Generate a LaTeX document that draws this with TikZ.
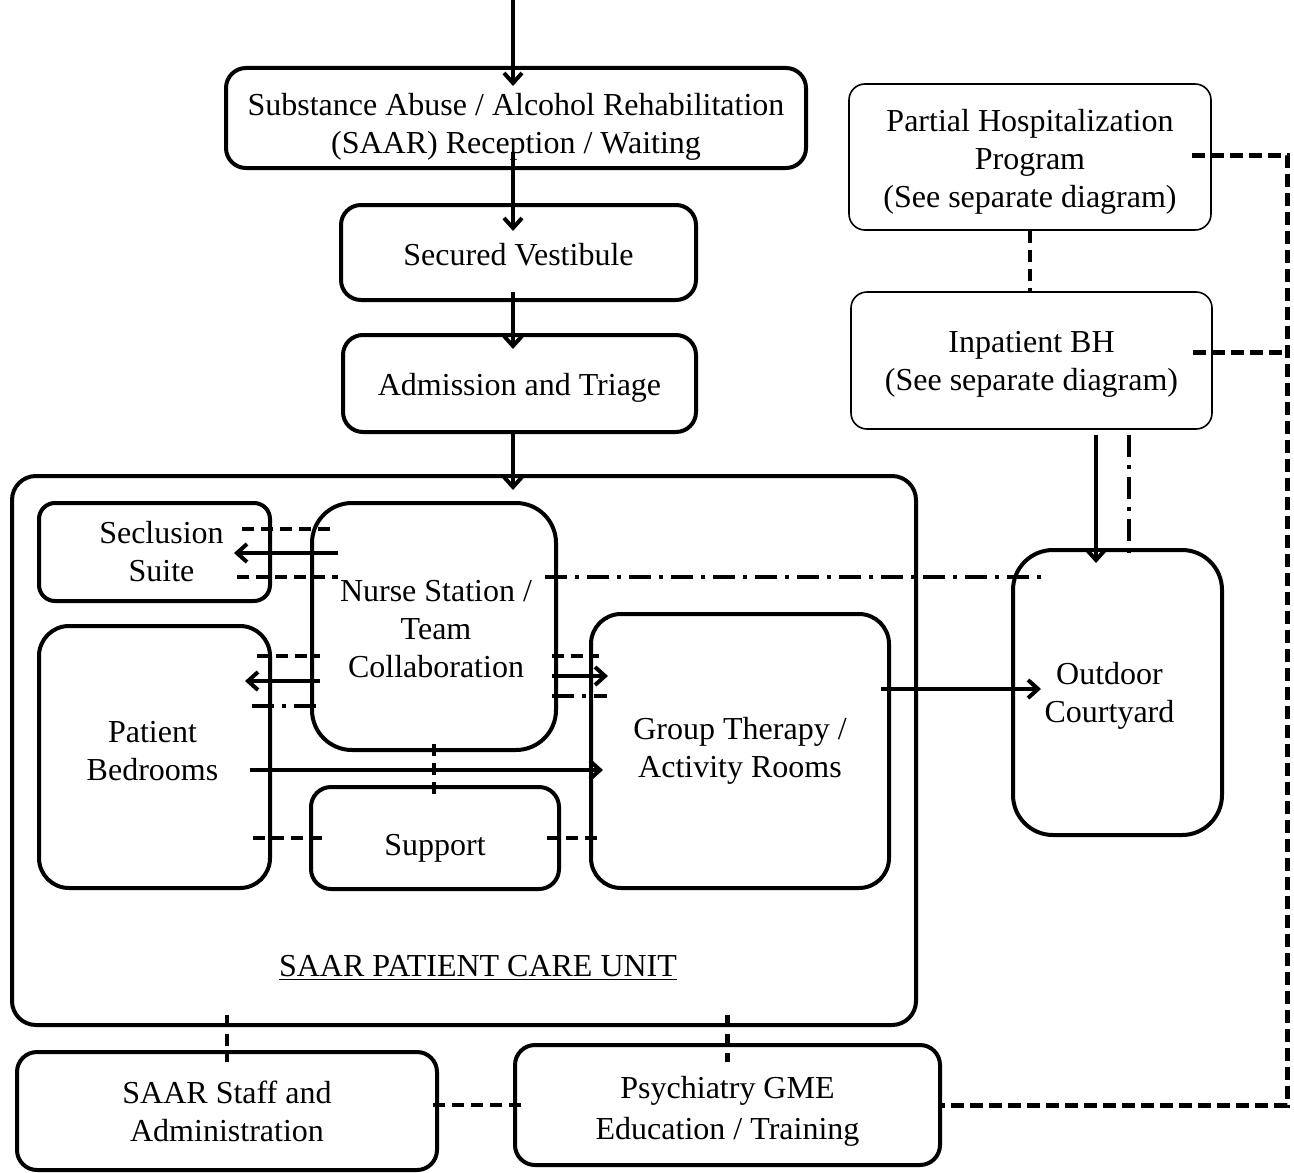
\documentclass[tikz,border=0pt]{standalone}
\usepackage{fontspec}
\setmainfont{Liberation Serif}
\usetikzlibrary{arrows.meta}
\begin{document}
\begin{tikzpicture}[x=0.5pt,y=-0.5pt,
	txt/.style={align=center,inner sep=0pt,font=\fontsize{16}{19}\selectfont},
	box/.style={draw,txt,line width=2pt,rounded corners=10pt},
	thinbox/.style={box,line width=0.8pt,rounded corners=8pt},
	arr/.style={line width=2pt,-{Straight Barb[length=5pt,width=9pt]}},
	dashln/.style={line width=2.2pt,dash pattern=on 6pt off 3.5pt},
	railln/.style={line width=2.5pt,dash pattern=on 6.5pt off 3pt},
	dotdash/.style={line width=2pt,dash pattern=on 11pt off 4pt on 2pt off 4pt}]
	\useasboundingbox (0,0) rectangle (1294,1172);
	% boxes
	\node[box,minimum width=290pt,minimum height=50pt,label={[txt,yshift=-4.5pt]center:{Substance Abuse / Alcohol Rehabilitation\\(SAAR) Reception / Waiting}}] (recep) at (516,118) {};
	\node[box,minimum width=177.5pt,minimum height=47.5pt,label={[txt,yshift=-1pt]center:Secured Vestibule}] (vest) at (518.5,252.5) {};
	\node[box,minimum width=176.5pt,minimum height=48.5pt,label={[txt,yshift=-2pt]center:Admission and Triage}] (adm) at (519.5,383.5) {};
	\node[box,rounded corners=12pt,minimum width=452pt,minimum height=274.5pt] (unit) at (464,750.5) {};
	\node[txt] (unitlbl) at (478,968) {\underline{SAAR PATIENT CARE UNIT}};
	\node[box,rounded corners=8pt,minimum width=115.5pt,minimum height=49pt,label={[txt,xshift=3.5pt]center:{Seclusion\\Suite}}] (secl) at (154.5,552) {};
	\node[box,rounded corners=20pt,minimum width=122pt,minimum height=123.5pt,label={[txt,xshift=1pt,yshift=-1.5pt]center:{Nurse Station /\\Team\\Collaboration}}] (nurse) at (434,626.5) {};
	\node[box,rounded corners=15pt,minimum width=115.5pt,minimum height=131pt,label={[txt,xshift=-1pt,yshift=3pt]center:{Patient\\Bedrooms}}] (bed) at (154.5,757) {};
	\node[box,rounded corners=15pt,minimum width=149pt,minimum height=137pt] (group) at (740,751) {Group Therapy /\\Activity Rooms};
	\node[box,minimum width=124pt,minimum height=51pt,label={[txt,yshift=-5pt]center:Support}] (supp) at (435,838) {};
	\node[box,rounded corners=20pt,minimum width=104.5pt,minimum height=142.5pt,label={[txt,xshift=-4pt,yshift=-1.5pt]center:{Outdoor\\Courtyard}}] (court) at (1117.5,692.5) {};
	\node[thinbox,minimum width=181pt,minimum height=73pt,label={[txt,yshift=-2.5pt]center:{Partial Hospitalization\\Program\\(See separate diagram)}}] (php) at (1030,157) {};
	\node[thinbox,minimum width=180.5pt,minimum height=68.5pt,label={[txt,yshift=-2pt]center:{Inpatient BH\\(See separate diagram)}}] (inpt) at (1031.5,360.5) {};
	\node[box,minimum width=210pt,minimum height=59pt] (staff) at (227,1111) {SAAR Staff and\\Administration};
	\node[box,minimum width=212.5pt,minimum height=60pt,label={[txt,yshift=-3pt]center:{Psychiatry GME\\[1.5pt]Education / Training}}] (gme) at (727.5,1105) {};
	\coordinate (entry) at (513,0);
	\coordinate (rail) at (1287,0);
	% entry path
	\draw[arr] (entry) -- ([yshift=-10pt]recep.north -| entry);
	\draw[arr] ([yshift=9pt]recep.south -| entry) -- ([yshift=-14pt]vest.north -| entry);
	\draw[arr] ([yshift=5pt]vest.south -| entry) -- ([yshift=-8pt]adm.north -| entry);
	\draw[arr] ([yshift=2pt]adm.south -| entry) -- ([yshift=-8pt]unit.north -| entry);
	% nurse station links
	\draw[dashln] ([xshift=-15pt]secl.east |- 0,529) -- ([xshift=13pt]nurse.west |- 0,529);
	\draw[arr] ([xshift=14pt]nurse.west |- 0,553) -- ([xshift=-19pt]secl.east |- 0,553);
	\draw[dashln] ([xshift=-17.5pt]secl.east |- 0,577) -- ([xshift=14pt]nurse.west |- 0,577);
	\draw[dashln] ([xshift=-7.5pt]bed.east |- 0,656) -- ([xshift=5pt]nurse.west |- 0,656);
	\draw[arr] ([xshift=5pt]nurse.west |- 0,681) -- ([xshift=-13.5pt]bed.east |- 0,681);
	\draw[dotdash] ([xshift=-10pt]bed.east |- 0,706) -- ([xshift=6pt]nurse.west |- 0,706);
	\draw[dashln] ([xshift=-3pt]nurse.east |- 0,656) -- ([xshift=5pt]group.west |- 0,656);
	\draw[arr] ([xshift=-3pt]nurse.east |- 0,676) -- ([xshift=9.5pt]group.west |- 0,676);
	\draw[dotdash] ([xshift=-3pt]nurse.east |- 0,696) -- ([xshift=9pt]group.west |- 0,696);
	\draw[dotdash] ([xshift=-6.5pt]nurse.east |- 0,577) -- ([xshift=15pt]court.west |- 0,577);
	\draw[dashln] ([yshift=4pt]nurse.south) -- ([yshift=-5.5pt]supp.north -| nurse.south);
	% bedrooms, support, group
	\draw[arr] ([xshift=-11pt]bed.east |- 0,770) -- ([xshift=7pt]group.west |- 0,770);
	\draw[dashln] ([xshift=-9.5pt]bed.east |- supp.west) -- ([xshift=8.5pt]supp.west);
	\draw[dashln] ([xshift=-7pt]supp.east) -- ([xshift=5.5pt]group.west |- supp.east);
	\draw[arr] ([xshift=-5pt]group.east |- 0,689) -- ([xshift=15pt]court.west |- 0,689);
	% right side
	\draw[arr] ([xshift=32.25pt,yshift=-2.5pt]inpt.south) -- ([xshift=-10.75pt,yshift=-7.5pt]court.north);
	\draw[dotdash] ([xshift=48.75pt,yshift=-2.5pt]inpt.south) -- ([xshift=5.75pt,yshift=-2.5pt]court.north);
	\draw[dashln] (php.south) -- (inpt.north -| php.south);
	\draw[railln] ([xshift=-10pt]php.east |- 0,155) -| (rail |- gme.east) -- (gme.east);
	\draw[railln] ([xshift=-10pt]inpt.east |- 0,352) -- (rail |- 0,352);
	% bottom
	\draw[dashln] ([yshift=6pt]unit.south -| staff.north) -- ([yshift=-6pt]staff.north);
	\draw[dashln] ([yshift=6pt]unit.south -| gme.north) -- ([yshift=-9.5pt]gme.north);
	\draw[dashln] ([xshift=-3pt]staff.east |- gme.west) -- ([xshift=4pt]gme.west);
\end{tikzpicture}
\end{document}
